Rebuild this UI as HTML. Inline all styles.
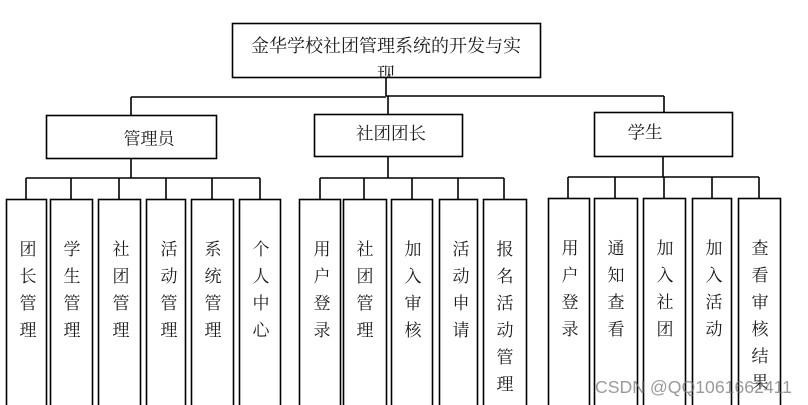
<!DOCTYPE html>
<html>
<head>
<meta charset="utf-8">
<style>
  html,body{margin:0;padding:0;background:#fff;}
  body{width:808px;height:405px;overflow:hidden;position:relative;}
  svg{position:absolute;left:0;top:0;}
  text{font-family:"Noto Serif CJK SC","Liberation Serif","Noto Sans CJK SC",serif;fill:#1a1a1a;}
  .wm{font-family:"Liberation Sans","DejaVu Sans",sans-serif;fill:rgba(120,120,120,0.75);}
</style>
</head>
<body>
<svg width="808" height="405" viewBox="0 0 808 405" xmlns="http://www.w3.org/2000/svg">
  <defs>
    <clipPath id="tb"><rect x="233" y="24" width="307" height="53"/></clipPath>
  </defs>
  <g fill="none" stroke="#000" stroke-width="1.6">
    <rect x="232.5" y="23.5" width="308" height="54"/>
    <line x1="386" y1="78" x2="386" y2="96"/>
    <line x1="131" y1="97" x2="386" y2="97"/>
    <line x1="386" y1="96" x2="664" y2="96"/>
    <line x1="131" y1="97" x2="131" y2="115"/>
    <line x1="388" y1="96" x2="388" y2="114"/>
    <line x1="664" y1="96" x2="664" y2="112"/>
    <rect x="46.5" y="115.5" width="170" height="43"/>
    <rect x="314.5" y="114.5" width="148" height="42"/>
    <rect x="594.5" y="112.5" width="138" height="44"/>
    <line x1="131" y1="158" x2="131" y2="178"/>
    <line x1="26" y1="178" x2="260" y2="178"/>
    <line x1="26" y1="178" x2="26" y2="199"/>
    <line x1="71" y1="178" x2="71" y2="199"/>
    <line x1="119" y1="178" x2="119" y2="199"/>
    <line x1="166" y1="178" x2="166" y2="199"/>
    <line x1="212" y1="178" x2="212" y2="199"/>
    <line x1="260" y1="178" x2="260" y2="199"/>
    <line x1="388" y1="156" x2="388" y2="178"/>
    <line x1="320" y1="178" x2="504" y2="178"/>
    <line x1="320" y1="178" x2="320" y2="199"/>
    <line x1="364" y1="178" x2="364" y2="199"/>
    <line x1="412" y1="178" x2="412" y2="199"/>
    <line x1="458" y1="178" x2="458" y2="199"/>
    <line x1="504" y1="178" x2="504" y2="199"/>
    <line x1="663" y1="156" x2="663" y2="177"/>
    <line x1="568" y1="177" x2="759" y2="177"/>
    <line x1="568" y1="177" x2="568" y2="198"/>
    <line x1="615" y1="177" x2="615" y2="198"/>
    <line x1="664" y1="177" x2="664" y2="198"/>
    <line x1="712" y1="177" x2="712" y2="198"/>
    <line x1="759" y1="177" x2="759" y2="198"/>
    <rect x="6.5" y="199.5" width="40" height="220"/>
    <rect x="50.5" y="199.5" width="42" height="220"/>
    <rect x="98.5" y="199.5" width="42" height="220"/>
    <rect x="146.5" y="199.5" width="39" height="220"/>
    <rect x="191.5" y="199.5" width="42" height="220"/>
    <rect x="239.5" y="199.5" width="41" height="220"/>
    <rect x="299.5" y="199.5" width="41" height="220"/>
    <rect x="343.5" y="199.5" width="43" height="220"/>
    <rect x="391.5" y="199.5" width="41" height="220"/>
    <rect x="439.5" y="199.5" width="38" height="220"/>
    <rect x="483.5" y="199.5" width="43" height="220"/>
    <rect x="548.5" y="198.5" width="41" height="220"/>
    <rect x="594.5" y="198.5" width="43" height="220"/>
    <rect x="643.5" y="198.5" width="42" height="220"/>
    <rect x="692.5" y="198.5" width="39" height="220"/>
    <rect x="738.5" y="198.5" width="42" height="220"/>
  </g>

  <g clip-path="url(#tb)">
    <text x="386" y="45" font-size="18" text-anchor="middle" dominant-baseline="central">金华学校社团管理系统的开发与实</text>
    <text x="386" y="73" font-size="18" text-anchor="middle" dominant-baseline="central">现</text>
  </g>

  <text x="149" y="137" font-size="17" text-anchor="middle" dominant-baseline="central">管理员</text>
  <text x="391" y="133" font-size="17.5" text-anchor="middle" dominant-baseline="central">社团团长</text>
  <text x="645" y="132" font-size="17.5" text-anchor="middle" dominant-baseline="central">学生</text>

  <g font-size="17" text-anchor="middle" dominant-baseline="central">
    <text x="28"><tspan x="28" y="247">团</tspan><tspan x="28" y="274">长</tspan><tspan x="28" y="301">管</tspan><tspan x="28" y="328">理</tspan></text>
    <text x="72"><tspan x="72" y="247">学</tspan><tspan x="72" y="274">生</tspan><tspan x="72" y="301">管</tspan><tspan x="72" y="328">理</tspan></text>
    <text x="121"><tspan x="121" y="247">社</tspan><tspan x="121" y="274">团</tspan><tspan x="121" y="301">管</tspan><tspan x="121" y="328">理</tspan></text>
    <text x="169"><tspan x="169" y="247">活</tspan><tspan x="169" y="274">动</tspan><tspan x="169" y="301">管</tspan><tspan x="169" y="328">理</tspan></text>
    <text x="213"><tspan x="213" y="247">系</tspan><tspan x="213" y="274">统</tspan><tspan x="213" y="301">管</tspan><tspan x="213" y="328">理</tspan></text>
    <text x="261"><tspan x="261" y="247">个</tspan><tspan x="261" y="274">人</tspan><tspan x="261" y="301">中</tspan><tspan x="261" y="328">心</tspan></text>

    <text x="322"><tspan x="322" y="247">用</tspan><tspan x="322" y="274">户</tspan><tspan x="322" y="301">登</tspan><tspan x="322" y="328">录</tspan></text>
    <text x="365"><tspan x="365" y="247">社</tspan><tspan x="365" y="274">团</tspan><tspan x="365" y="301">管</tspan><tspan x="365" y="328">理</tspan></text>
    <text x="413"><tspan x="413" y="247">加</tspan><tspan x="413" y="274">入</tspan><tspan x="413" y="301">审</tspan><tspan x="413" y="328">核</tspan></text>
    <text x="461"><tspan x="461" y="247">活</tspan><tspan x="461" y="274">动</tspan><tspan x="461" y="301">申</tspan><tspan x="461" y="328">请</tspan></text>
    <text x="505"><tspan x="505" y="247">报</tspan><tspan x="505" y="274">名</tspan><tspan x="505" y="301">活</tspan><tspan x="505" y="328">动</tspan><tspan x="505" y="355">管</tspan><tspan x="505" y="382">理</tspan></text>

    <text x="570"><tspan x="570" y="246">用</tspan><tspan x="570" y="273">户</tspan><tspan x="570" y="300">登</tspan><tspan x="570" y="327">录</tspan></text>
    <text x="616"><tspan x="616" y="246">通</tspan><tspan x="616" y="273">知</tspan><tspan x="616" y="300">查</tspan><tspan x="616" y="327">看</tspan></text>
    <text x="665"><tspan x="665" y="246">加</tspan><tspan x="665" y="273">入</tspan><tspan x="665" y="300">社</tspan><tspan x="665" y="327">团</tspan></text>
    <text x="714"><tspan x="714" y="246">加</tspan><tspan x="714" y="273">入</tspan><tspan x="714" y="300">活</tspan><tspan x="714" y="327">动</tspan></text>
    <text x="760"><tspan x="760" y="246">查</tspan><tspan x="760" y="273">看</tspan><tspan x="760" y="300">审</tspan><tspan x="760" y="327">核</tspan><tspan x="760" y="354">结</tspan><tspan x="760" y="380">果</tspan></text>
  </g>

  <text class="wm" x="595" y="393" font-size="17.5" textLength="197" lengthAdjust="spacingAndGlyphs">CSDN @QQ1061662411</text>
</svg>
</body>
</html>
